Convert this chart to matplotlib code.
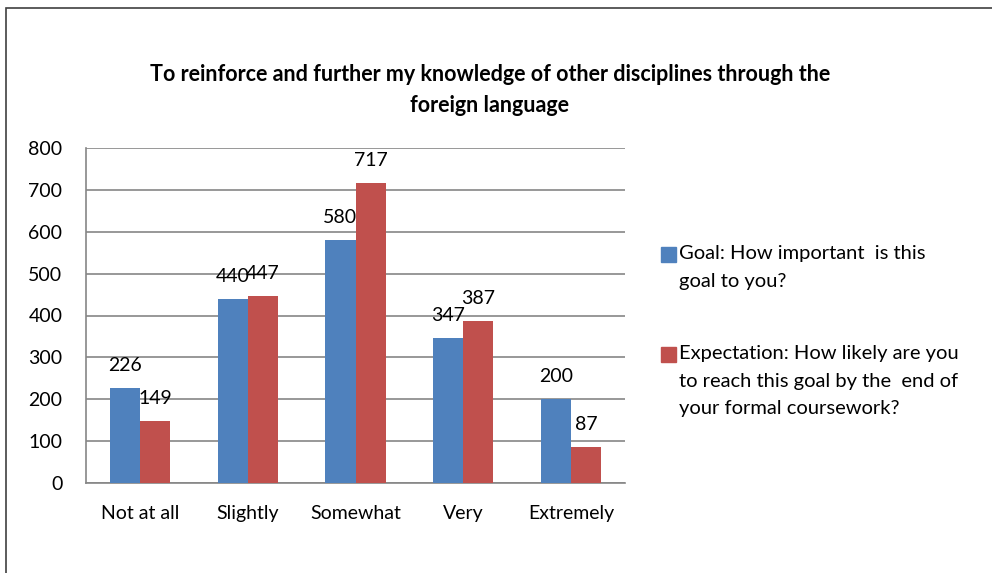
import matplotlib.pyplot as plt
import numpy as np
from matplotlib.patches import Rectangle

plt.rcParams['font.family'] = ['Lato', 'DejaVu Sans']

categories = ['Not at all', 'Slightly', 'Somewhat', 'Very', 'Extremely']
goal = [226, 440, 580, 347, 200]
expectation = [149, 447, 717, 387, 87]
goal_label = 'Goal: How important  is this\ngoal to you?'
exp_label = 'Expectation: How likely are you\nto reach this goal by the  end of\nyour formal coursework?'
title = 'To reinforce and further my knowledge of other disciplines through the\nforeign language'

blue = '#4F81BD'
red = '#C0504D'
fs = 14

fig = plt.figure(figsize=(9.92, 5.73), dpi=100)
W, H = 992, 573
# outer chart frame
fig.patches.append(Rectangle((6 / W, -0.1), 1.2, 1 - 8 / H + 0.1,
                             transform=fig.transFigure, fill=False,
                             edgecolor='#404040', linewidth=1.2))

ax = fig.add_axes([86 / W, 1 - 483 / H, 539 / W, 335 / H])
x = np.arange(len(categories))
w = 0.28
b1 = ax.bar(x - w / 2, goal, w, color=blue, zorder=3)
b2 = ax.bar(x + w / 2, expectation, w, color=red, zorder=3)

for bars, vals in ((b1, goal), (b2, expectation)):
    for rect, v in zip(bars, vals):
        ax.annotate(str(v), (rect.get_x() + rect.get_width() / 2, v),
                    xytext=(0, 10), textcoords='offset points',
                    ha='center', va='bottom', fontsize=fs)

ax.set_ylim(0, 800)
ax.set_xlim(-0.5, 4.5)
ax.set_yticks(range(0, 801, 100))
ax.set_xticks(x)
ax.set_xticklabels(categories)
ax.tick_params(axis='both', length=0, labelsize=fs)
ax.tick_params(axis='y', pad=17)
ax.tick_params(axis='x', pad=16)
ax.yaxis.grid(True, color='#868686', linewidth=1.2, zorder=0)
for s in ('top', 'right'):
    ax.spines[s].set_visible(False)
for s in ('left', 'bottom'):
    ax.spines[s].set_color('#868686')
    ax.spines[s].set_linewidth(1.2)

fig.text(490 / W, 1 - 90 / H, title, ha='center', va='center', fontsize=15.5,
         fontweight='bold', linespacing=1.6)

# legend: square marker beside the first line of each entry
for color, label, ytop in ((blue, goal_label, 246), (red, exp_label, 346)):
    fig.patches.append(Rectangle((661 / W, 1 - (ytop + 16) / H), 15 / W, 15 / H,
                                 transform=fig.transFigure, color=color))
    fig.text(679 / W, 1 - (ytop - 1) / H, label, ha='left', va='top',
             fontsize=14.5, linespacing=1.75)

fig.savefig('out.png', dpi=100)
